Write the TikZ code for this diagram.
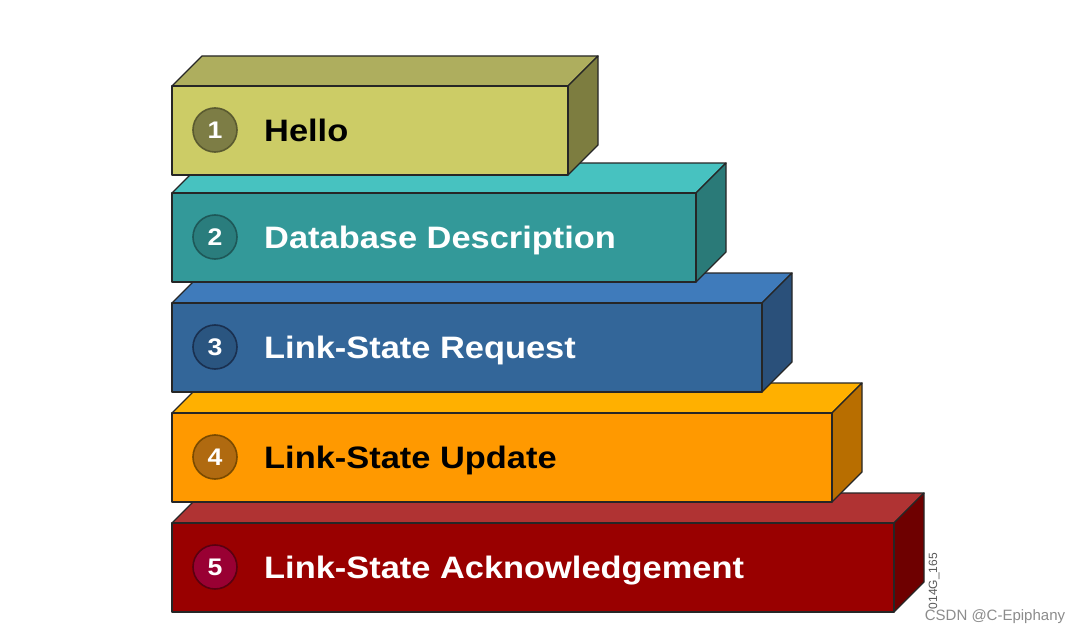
\documentclass[tikz,border=0pt]{standalone}
\usepackage{fontspec}
\setmainfont{Liberation Sans}
\newfontfamily\lblfont[FakeStretch=1.11]{Liberation Sans}
\definecolor{f1}{HTML}{CCCC66}\definecolor{t1}{HTML}{AEAE5E}\definecolor{s1}{HTML}{7D7D40}\definecolor{cf1}{HTML}{7D7D45}\definecolor{cd1}{HTML}{5A5A30}
\definecolor{f2}{HTML}{339999}\definecolor{t2}{HTML}{47C2C0}\definecolor{s2}{HTML}{2A7A78}\definecolor{cf2}{HTML}{2A7D7D}\definecolor{cd2}{HTML}{1E5858}
\definecolor{f3}{HTML}{336699}\definecolor{t3}{HTML}{3F7BBB}\definecolor{s3}{HTML}{2A507A}\definecolor{cf3}{HTML}{2A5580}\definecolor{cd3}{HTML}{1A3050}
\definecolor{f4}{HTML}{FF9900}\definecolor{t4}{HTML}{FFB000}\definecolor{s4}{HTML}{B86E00}\definecolor{cf4}{HTML}{B06A10}\definecolor{cd4}{HTML}{7A4A00}
\definecolor{f5}{HTML}{990000}\definecolor{t5}{HTML}{B03333}\definecolor{s5}{HTML}{6E0000}\definecolor{cf5}{HTML}{990033}\definecolor{cd5}{HTML}{5A0010}
\begin{document}
\begin{tikzpicture}[x=1pt,y=-1pt,
  edge/.style={draw=black!85, line width=1.3pt, line join=round},
  numdot/.style={circle, line width=1.6pt, minimum size=44pt, inner sep=0pt, text=white, font=\lblfont\bfseries\fontsize{24}{24}\selectfont},
  msglabel/.style={anchor=base west, inner sep=0pt, font=\lblfont\bfseries\fontsize{31}{31}\selectfont}]
\useasboundingbox (0,0) rectangle (1080,634);
\fill[white] (0,0) rectangle (1080,634);
\foreach \i/\T/\R/\tc/\txt in {5/523/894/white/Link-State Acknowledgement,4/413/832/black/Link-State Update,3/303/762/white/Link-State Request,2/193/696/white/Database Description,1/86/568/black/Hello}{
  \pgfmathsetmacro\B{\T+89}
  \filldraw[edge, fill=t\i] (172,\T) -- (202,\T-30) -- (\R+30,\T-30) -- (\R,\T) -- cycle;
  \filldraw[edge, fill=s\i] (\R,\T) -- (\R+30,\T-30) -- (\R+30,\B-30) -- (\R,\B) -- cycle;
  \filldraw[edge, fill=f\i] (172,\T) rectangle (\R,\B);
  \node[numdot, fill=cf\i, draw=cd\i] (c\i) at (215,\T+44) {\i};
  \node[msglabel, text=\tc] (l\i) at (264,\T+55) {\txt};
}
\node[rotate=90, text=black!65, font=\fontsize{12}{12}\selectfont, inner sep=0pt] (code) at (934,581) {014G\_165};
\node[text=black!45, font=\fontsize{15}{15}\selectfont, inner sep=0pt] (wm) at (995,617) {CSDN @C-Epiphany};
\end{tikzpicture}
\end{document}
